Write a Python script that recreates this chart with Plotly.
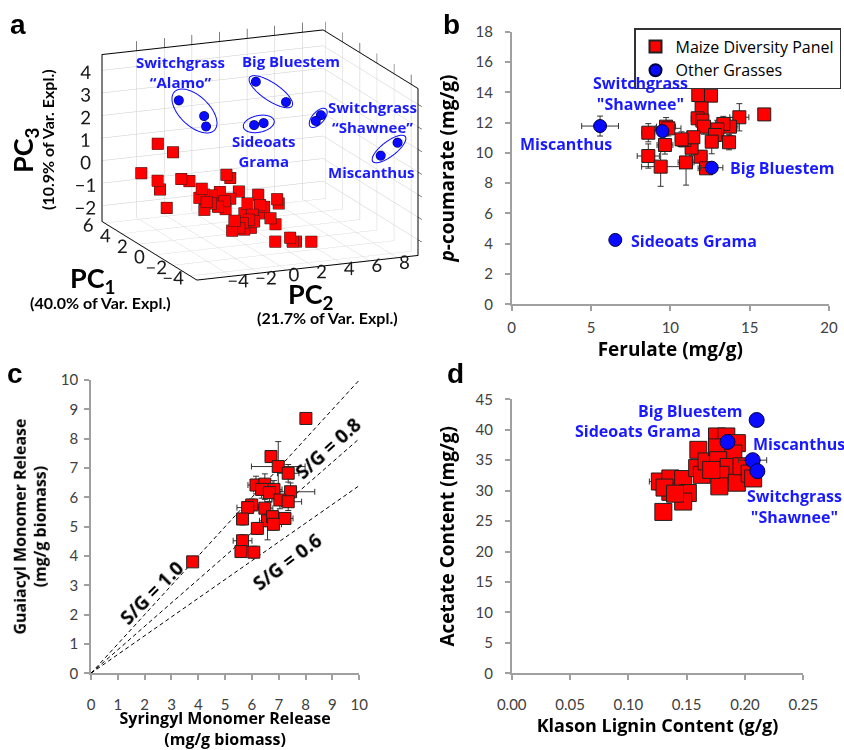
import numpy as np
import plotly.graph_objects as go

FONT = "Lato"
TFONT = "Open Sans"
LETTER_FONT = "Liberation Sans"
RED = "#ff0000"
BLUE = "#0a0aff"
LABEL_BLUE = "#1a1aff"
EDGE = "#202020"
AXIS_GRAY = "#a0a0a0"
TICK_TXT = "#404040"

# ---------------- (a) PCA scores ----------------
maize_pc1 = [2.97, 2.97, 2.97, 1.86, 1.86, 1.86, 1.86, 1.86, 0.75, 0.75,
             0.75, 0.75, 0.75, 0.75, 0.75, -0.36, -0.36, -0.36, -0.36, -0.36,
             0.75, 0.75, -0.36, -2.02, -2.02, -2.02, -0.36, -0.36, -2.02, -2.02,
             0.75, -0.36, -0.36, -0.36, -2.02, -2.02, -1.47, -1.47, 0.75, 0.75,
             -3.69, -3.69, -3.69, -3.69, -3.69, -2.02, -1.47, 0.75, 0.75]
maize_pc2 = [-4.53, -3.43, -5.73, -5.23, -5.06, -4.57, -3.52, -2.93, -0.94, -0.66,
             -2.72, -2.89, -2.55, -2.00, -1.41, -3.05, -3.22, -2.74, -2.23, -1.75,
             -0.66, -0.04, -1.68, -2.07, -2.24, -1.48, -0.10, -0.32, -0.88, -1.01,
             1.36, 0.81, 1.10, 0.86, -0.65, -1.36, 0.88, 1.24, 2.73, 2.85,
             -0.15, 0.93, 1.11, 1.35, 2.46, -1.72, -0.42, -1.54, -2.13]
maize_pc3 = [1.40, 0.95, 0.18, 0.07, -0.33, -1.18, 0.03, -0.10, 0.30, 0.14,
             -0.20, -0.59, -0.47, -0.54, -0.43, -0.50, -0.84, -0.59, -0.77, -0.55,
             -0.78, -0.50, -0.91, -1.01, -1.44, -1.15, -0.77, -1.19, -1.41, -1.04,
             -0.74, -0.90, -1.00, -1.27, -1.14, -1.45, -1.23, -1.52, -1.03, -1.23,
             -1.68, -1.58, -1.77, -1.78, -1.86, -1.36, -0.99, -0.72, -0.67]

grass_groups = ["Switchgrass<br>“Alamo”", "Big Bluestem", "Sideoats<br>Grama",
                "Switchgrass<br>“Shawnee”", "Miscanthus"]
grass_group_of = [0, 0, 0, 1, 1, 2, 2, 3, 3, 4, 4]
grass_pc1 = [0.75, 0.75, 0.75, 1.86, 1.86, -0.36, -0.36, -0.36, -0.36, -3.69, -3.69]
grass_pc2 = [-4.38, -2.55, -2.41, 1.88, 4.06, 0.38, 1.07, 4.84, 5.21, 7.48, 8.70]
grass_pc3 = [3.83, 3.01, 2.54, 3.97, 2.92, 2.67, 2.71, 2.55, 2.78, 1.61, 2.10]

pc1_ticks = [-4, -2, 0, 2, 4, 6]
pc2_ticks = [-4, -2, 0, 2, 4, 6, 8]
pc3_ticks = [-2, -1, 0, 1, 2, 3, 4]

# ---------------- (b) p-coumarate vs ferulate ----------------
b_maize_fer = [11.76, 12.56, 11.97, 11.72, 12.02, 12.12, 15.92, 14.35, 13.76, 13.34,
               12.96, 12.82, 12.61, 13.70, 9.73, 9.87, 8.61, 9.66, 8.61, 9.39,
               10.99, 11.91, 11.34, 10.88, 11.45, 10.71, 12.25]
b_maize_pca = [13.82, 13.78, 12.94, 12.28, 12.13, 11.73, 12.54, 12.35, 11.73, 11.91,
               11.55, 11.18, 10.74, 10.70, 11.73, 11.62, 11.33, 10.52, 9.79, 9.09,
               9.37, 9.75, 10.34, 10.85, 11.03, 10.89, 8.98]
b_maize_fer_err = [0.3, 0.3, 0.3, 0.4, 0.3, 0.4, 0.0, 0.6, 0.5, 0.5,
                   0.6, 0.5, 0.4, 0.4, 0.6, 0.8, 0.4, 0.5, 0.7, 1.2,
                   0.5, 0.4, 0.3, 0.3, 0.3, 0.4, 0.5]
b_maize_pca_err = [0.3, 0.3, 0.3, 0.4, 0.3, 0.5, 0.0, 0.9, 0.6, 0.5,
                   0.6, 0.7, 0.8, 0.5, 0.6, 0.5, 0.6, 0.6, 0.8, 1.3,
                   1.5, 0.4, 0.5, 0.3, 0.4, 0.5, 0.3]
b_grass_names = ["Miscanthus", "Switchgrass<br>\"Shawnee\"", "Big Bluestem", "Sideoats Grama"]
b_grass_fer = [5.57, 9.50, 12.61, 6.53]
b_grass_pca = [11.77, 11.44, 9.02, 4.25]
b_grass_fer_err = [1.16, 0.2, 0.7, 0.1]
b_grass_pca_err = [0.66, 0.3, 0.3, 0.35]

# ---------------- (c) G vs S monomer release ----------------
c_syringyl = [8.01, 6.71, 6.98, 7.35, 6.15, 6.48, 6.36, 6.82, 6.65, 7.44,
              7.04, 7.35, 5.99, 5.84, 6.48, 5.65, 6.58, 6.77, 7.23, 6.80,
              6.20, 5.65, 5.59, 6.07, 3.79]
c_guaiacyl = [8.69, 7.39, 7.05, 6.82, 6.42, 6.45, 6.27, 6.27, 6.16, 6.19,
              5.91, 5.85, 5.74, 5.65, 5.63, 5.26, 5.20, 5.34, 5.28, 5.08,
              4.94, 4.52, 4.15, 4.13, 3.80]
c_syringyl_err = [0.0, 0.2, 1.0, 0.4, 0.3, 0.3, 0.3, 0.3, 0.3, 0.9,
                  0.3, 0.5, 0.3, 0.4, 0.3, 0.2, 0.3, 0.3, 0.3, 0.3,
                  0.2, 0.35, 0.2, 0.2, 0.0]
c_guaiacyl_err = [0.0, 0.2, 0.85, 0.3, 0.3, 0.35, 0.3, 0.3, 0.3, 0.3,
                  0.3, 0.3, 0.2, 0.2, 0.3, 0.2, 0.65, 0.2, 0.2, 0.2,
                  0.2, 0.2, 0.2, 0.2, 0.0]
sg_labels = ["S/G = 1.0", "S/G = 0.8", "S/G = 0.6"]
sg_line_slopes = [1.0, 0.8, 0.64]
sg_label_x = [2.26, 8.85, 7.30]
sg_label_y = [2.73, 7.68, 3.81]
sg_label_angle = [-45, -42, -37]

# ---------------- (d) acetate vs Klason lignin ----------------
d_maize_lignin = [0.130, 0.127, 0.136, 0.136, 0.147, 0.151, 0.147, 0.160, 0.159, 0.163,
                  0.167, 0.176, 0.184, 0.176, 0.193, 0.190, 0.177, 0.186, 0.179, 0.178,
                  0.193, 0.197, 0.204, 0.207, 0.171, 0.131, 0.140]
d_maize_acetate = [26.5, 31.5, 32.0, 29.8, 31.9, 29.6, 28.2, 36.7, 33.7, 32.6,
                   34.8, 38.9, 38.9, 37.1, 37.8, 36.1, 35.0, 33.9, 32.6, 30.7,
                   31.3, 34.0, 32.8, 32.0, 33.4, 30.5, 29.5]
d_maize_lignin_err = [0.003, 0.009, 0.003, 0.003, 0.003, 0.003, 0.003, 0.003, 0.003, 0.003,
                      0.003, 0.003, 0.003, 0.003, 0.003, 0.003, 0.003, 0.003, 0.003, 0.003,
                      0.003, 0.003, 0.003, 0.003, 0.003, 0.008, 0.003]
d_grass_names = ["Big Bluestem", "Sideoats Grama", "Miscanthus", "Switchgrass<br>\"Shawnee\""]
d_grass_lignin = [0.210, 0.185, 0.2066, 0.2106]
d_grass_acetate = [41.6, 38.0, 35.0, 33.2]
d_grass_lignin_err = [0.0, 0.0, 0.012, 0.0]

fig = go.Figure()

# ---------- panel a: 3-D scatter ----------
fig.add_trace(go.Scatter3d(
    x=maize_pc2, y=maize_pc1, z=maize_pc3, mode="markers", showlegend=False,
    marker=dict(symbol="square", size=6, color=RED, line=dict(color=EDGE, width=1)),
    scene="scene"))
fig.add_trace(go.Scatter3d(
    x=grass_pc2, y=grass_pc1, z=grass_pc3, mode="markers", showlegend=False,
    marker=dict(symbol="circle", size=5.5, color=BLUE, line=dict(color="#000040", width=1)),
    scene="scene"))

rng_x, rng_y, rng_z = [-6.5, 9.5], [-4.8, 6.3], [-2.7, 4.7]
asp = np.array([1.0, 1.01, 0.72])
box_zoom = 1.55
lo = np.array([rng_x[0], rng_y[0], rng_z[0]])
span = np.array([rng_x[1] - rng_x[0], rng_y[1] - rng_y[0], rng_z[1] - rng_z[0]])
phi, th = np.radians(23.0), np.radians(15.2)
eye_dir = np.array([-np.sin(phi) * np.cos(th), -np.cos(phi) * np.cos(th), np.sin(th)])
scr_r = np.array([np.cos(phi), -np.sin(phi), 0.0])
scr_u = np.array([np.sin(phi) * np.sin(th), np.cos(phi) * np.sin(th), np.cos(th)])
px_per_unit = 244.0
ring_pad_px = [(9, 12), (7.5, 9), (11, 8.5), (8, 6), (10, 7.5)]
label_shift = [(-15, 42), (21, 31), (6, -27), (55, 1), (-17, -23)]

# outline rings around each grass species, lying in the screen plane
pts_all = np.column_stack([grass_pc2, grass_pc1, grass_pc3])
scene_ann = []
for gi, name in enumerate(grass_groups):
    pts = pts_all[np.array(grass_group_of) == gi]
    n = (pts - lo) / span * asp
    c3 = n.mean(axis=0)
    s = np.column_stack([(n - c3) @ scr_r, (n - c3) @ scr_u])
    best, pair = -1, (0, 1)
    for i in range(len(s)):
        for j in range(i + 1, len(s)):
            dd = np.linalg.norm(s[i] - s[j])
            if dd > best:
                best, pair = dd, (i, j)
    d = s[pair[1]] - s[pair[0]]
    d = d / np.linalg.norm(d)
    perp = np.array([-d[1], d[0]])
    t, w = s @ d, s @ perp
    mid = (t.max() + t.min()) / 2 * d + (w.max() + w.min()) / 2 * perp
    a = (t.max() - t.min()) / 2 + ring_pad_px[gi][0] / px_per_unit
    b = (w.max() - w.min()) / 2 + ring_pad_px[gi][1] / px_per_unit
    ang = np.linspace(0, 2 * np.pi, 73)
    e2 = (mid[None, :] + np.outer(a * np.cos(ang), d) + np.outer(b * np.sin(ang), perp))
    e3 = c3[None, :] + np.outer(e2[:, 0], scr_r) + np.outer(e2[:, 1], scr_u)
    ed = e3 / asp * span + lo
    fig.add_trace(go.Scatter3d(x=ed[:, 0], y=ed[:, 1], z=ed[:, 2], mode="lines",
                               line=dict(color=BLUE, width=2), showlegend=False,
                               hoverinfo="skip", scene="scene"))
    cd = c3 / asp * span + lo
    scene_ann.append(dict(x=cd[0], y=cd[1], z=cd[2], text=name, showarrow=False,
                          xshift=label_shift[gi][0], yshift=label_shift[gi][1],
                          font=dict(family=TFONT, size=15, color=LABEL_BLUE, weight="bold")))

ax3 = dict(title=dict(text=""), showgrid=True, gridcolor="#cccccc", gridwidth=1,
           showline=True, linecolor="#000000", linewidth=2, mirror="all",
           showbackground=False, zeroline=False, showspikes=False, ticks="",
           tickangle=0, tickfont=dict(family=FONT, size=15, color="#1a1a1a"))
L = 1.2
aspz = asp * box_zoom
fig.update_layout(scene=dict(
    domain=dict(x=[0.0541, 0.5611], y=[0.5866, 1.0]),
    xaxis=dict(ax3, range=rng_x, tickvals=pc2_ticks),
    yaxis=dict(ax3, range=rng_y, tickvals=pc1_ticks),
    zaxis=dict(ax3, range=rng_z, tickvals=pc3_ticks),
    aspectmode="manual", aspectratio=dict(x=aspz[0], y=aspz[1], z=aspz[2]),
    camera=dict(eye=dict(x=eye_dir[0] * L, y=eye_dir[1] * L, z=eye_dir[2] * L),
                up=dict(x=0, y=0, z=1), center=dict(x=0, y=0, z=0),
                projection=dict(type="orthographic")),
    annotations=scene_ann,
    bgcolor="rgba(0,0,0,0)"))

# ---------- panel b ----------
fig.add_trace(go.Scatter(
    x=b_maize_fer, y=b_maize_pca, mode="markers", name="Maize Diversity Panel",
    marker=dict(symbol="square", size=13, color=RED, line=dict(color=EDGE, width=1)),
    error_x=dict(type="data", array=b_maize_fer_err, color="#333333", thickness=1, width=3),
    error_y=dict(type="data", array=b_maize_pca_err, color="#333333", thickness=1, width=3),
    xaxis="x", yaxis="y", legendrank=1))
fig.add_trace(go.Scatter(
    x=b_grass_fer, y=b_grass_pca, mode="markers", name="Other Grasses",
    marker=dict(symbol="circle", size=13, color=BLUE, line=dict(color="#000040", width=1)),
    error_x=dict(type="data", array=b_grass_fer_err, color="#333333", thickness=1, width=3),
    error_y=dict(type="data", array=b_grass_pca_err, color="#333333", thickness=1, width=3),
    xaxis="x", yaxis="y", legendrank=2))

# ---------- panel c ----------
for slope in sg_line_slopes:
    fig.add_trace(go.Scatter(x=[0, 10], y=[0, 10 * slope], mode="lines", showlegend=False,
                             line=dict(color="#000000", width=1, dash="4px,3px"),
                             hoverinfo="skip", xaxis="x2", yaxis="y2"))
fig.add_trace(go.Scatter(
    x=c_syringyl, y=c_guaiacyl, mode="markers", showlegend=False,
    marker=dict(symbol="square", size=12, color=RED, line=dict(color=EDGE, width=1)),
    error_x=dict(type="data", array=c_syringyl_err, color="#333333", thickness=1, width=3),
    error_y=dict(type="data", array=c_guaiacyl_err, color="#333333", thickness=1, width=3),
    xaxis="x2", yaxis="y2"))

# ---------- panel d ----------
fig.add_trace(go.Scatter(
    x=d_maize_lignin, y=d_maize_acetate, mode="markers", showlegend=False,
    marker=dict(symbol="square", size=17, color=RED, line=dict(color=EDGE, width=1)),
    error_x=dict(type="data", array=d_maize_lignin_err, color="#333333", thickness=1, width=3),
    xaxis="x3", yaxis="y3"))
fig.add_trace(go.Scatter(
    x=d_grass_lignin, y=d_grass_acetate, mode="markers", showlegend=False,
    marker=dict(symbol="circle", size=15, color=BLUE, line=dict(color="#000040", width=1)),
    error_x=dict(type="data", array=d_grass_lignin_err, color="#333333", thickness=1, width=3),
    xaxis="x3", yaxis="y3"))

def ax2d(**kw):
    base = dict(showline=True, linecolor=AXIS_GRAY, linewidth=1.5, ticks="outside",
                ticklen=5, tickcolor=AXIS_GRAY, tickwidth=1.5, showgrid=False,
                zeroline=False, automargin=False,
                tickfont=dict(family=FONT, size=15, color=TICK_TXT))
    base.update(kw)
    return base

title_font = lambda s: dict(family=TFONT, size=s, color="#000000", weight="bold")

fig.update_layout(
    xaxis=ax2d(domain=[0.6063, 0.9822], anchor="y", range=[0, 20], tickvals=[0, 5, 10, 15, 20],
               ticklabelstandoff=4,
               title=dict(text="Ferulate (mg/g)", font=title_font(19), standoff=4)),
    yaxis=ax2d(domain=[0.5943, 0.9577], anchor="x", range=[0, 18],
               tickvals=list(range(0, 19, 2)), ticklabelstandoff=9,
               title=dict(text="<i>p</i>-coumarate (mg/g)", font=title_font(19), standoff=16)),
    xaxis2=ax2d(domain=[0.1078, 0.4257], anchor="y2", range=[0, 10], tickvals=list(range(11)),
                ticklabelstandoff=12,
                title=dict(text="Syringyl Monomer Release<br>(mg/g biomass)", font=title_font(16),
                           standoff=2)),
    yaxis2=ax2d(domain=[0.1023, 0.4933], anchor="x2", range=[0, 10], tickvals=list(range(11)),
                ticklabelstandoff=3,
                title=dict(text="Guaiacyl Monomer Release<br>(mg/g biomass)", font=title_font(16),
                           standoff=10)),
    xaxis3=ax2d(domain=[0.6063, 0.9518], anchor="y3", range=[0, 0.25],
                tickvals=[0, 0.05, 0.10, 0.15, 0.20, 0.25], tickformat=".2f",
                ticklabelstandoff=12,
                title=dict(text="Klason Lignin Content (g/g)", font=title_font(18), standoff=4)),
    yaxis3=ax2d(domain=[0.1023, 0.4676], anchor="x3", range=[0, 45],
                tickvals=list(range(0, 46, 5)), ticklabelstandoff=9,
                title=dict(text="Acetate Content (mg/g)", font=title_font(19), standoff=16)),
)

ann = []
# panel letters
for txt, x, y in [("a", 18, 25), ("b", 451, 25), ("c", 15, 374), ("d", 455, 374)]:
    ann.append(dict(text=txt, x=x / 844, y=1 - y / 750, xref="paper", yref="paper",
                    showarrow=False, xanchor="center", yanchor="middle",
                    font=dict(family=LETTER_FONT, size=28, color="#000000", weight="bold")))
# PCA axis titles
pc_titles = [("PC<sub>3</sub>", 25, 150, -90, 27), ("(10.9% of Var. Expl.)", 48, 140, -90, 16),
             ("PC<sub>1</sub>", 93, 280, 0, 27), ("(40.0% of Var. Expl.)", 100, 302, 0, 16),
             ("PC<sub>2</sub>", 311, 295, 0, 27), ("(21.7% of Var. Expl.)", 327, 318, 0, 16)]
for txt, x, y, rot, sz in pc_titles:
    ann.append(dict(text=txt, x=x / 844, y=1 - y / 750, xref="paper", yref="paper",
                    showarrow=False, xanchor="center", yanchor="middle", textangle=rot,
                    font=dict(family=FONT, size=sz, color="#000000", weight="bold")))
# panel b labels
b_lab_xy = [(3.43, 10.57, "center"), (8.09, 13.95, "center"), (13.63, 8.98, "left"),
            (7.41, 4.2, "left")]
for name, (lx, ly, anc) in zip(b_grass_names, b_lab_xy):
    ann.append(dict(text=name, x=lx, y=ly, xref="x", yref="y", showarrow=False,
                    xanchor=anc, yanchor="middle", align="center",
                    font=dict(family=TFONT, size=16, color=LABEL_BLUE, weight="bold")))
# panel c ratio labels
for txt, lx, ly, rot in zip(sg_labels, sg_label_x, sg_label_y, sg_label_angle):
    ann.append(dict(text=txt, x=lx, y=ly, xref="x2", yref="y2", showarrow=False,
                    textangle=rot, xanchor="center", yanchor="middle",
                    font=dict(family=TFONT, size=19, color="#000000", weight="bold")))
# panel d labels
d_lab_xy = [(0.200, 43.1, "right"), (0.1637, 39.8, "right"), (0.205, 37.6, "left"),
            (0.2428, 27.36, "center")]
for name, (lx, ly, anc) in zip(d_grass_names, d_lab_xy):
    ann.append(dict(text=name, x=lx, y=ly, xref="x3", yref="y3", showarrow=False,
                    xanchor=anc, yanchor="middle", align="center",
                    font=dict(family=TFONT, size=16, color=LABEL_BLUE, weight="bold")))

fig.update_layout(
    width=844, height=750, margin=dict(l=0, r=0, t=0, b=0),
    paper_bgcolor="white", plot_bgcolor="white",
    font=dict(family=FONT, color="#000000"),
    annotations=ann,
    legend=dict(x=841 / 844, y=1 - 28 / 750, xanchor="right", yanchor="top",
                bordercolor="#333333", borderwidth=1.5, bgcolor="white",
                font=dict(family=TFONT, size=16, color="#000000"),
                itemsizing="constant", tracegroupgap=0),
)

fig.write_html("out.html")
